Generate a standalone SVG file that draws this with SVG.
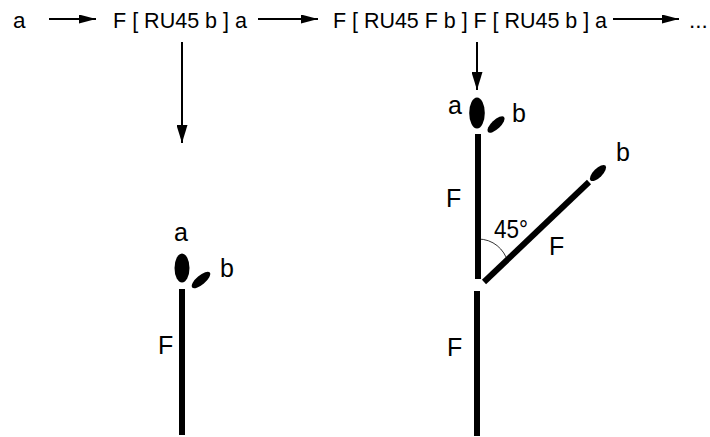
<svg xmlns="http://www.w3.org/2000/svg" width="710" height="437" viewBox="0 0 710 437">
<style>
.t{font-family:"Liberation Sans",Arial,sans-serif;font-size:22.5px;fill:#000}
.l{font-family:"Liberation Sans",Arial,sans-serif;font-size:25px;fill:#000}
.ar{stroke:#000;stroke-width:2;fill:none}
.stem{stroke:#000;stroke-width:6;fill:none}
.arc{stroke:#000;stroke-width:0.8;fill:none}
</style>
<defs>
<marker id="hh" markerUnits="userSpaceOnUse" markerWidth="17" markerHeight="9" refX="17" refY="4.5" orient="auto"><path d="M0,0 L17,4.5 L0,9 z" fill="#000"/></marker>
<marker id="hv" markerUnits="userSpaceOnUse" markerWidth="18" markerHeight="11" refX="18" refY="5.5" orient="auto"><path d="M0,0 L18,5.5 L0,11 z" fill="#000"/></marker>
</defs>
<g id="formula">
<text class="t" x="13" y="28">a</text>
<text class="t" x="113" y="28" textLength="134" lengthAdjust="spacingAndGlyphs">F [ RU45 b ] a</text>
<text class="t" x="333" y="28" textLength="274" lengthAdjust="spacingAndGlyphs">F [ RU45 F b ] F [ RU45 b ] a</text>
<text class="t" x="689" y="28">...</text>
</g>
<g id="connectors">
<line class="ar" x1="49" y1="19" x2="96" y2="19" marker-end="url(#hh)"/>
<line class="ar" x1="258" y1="19" x2="318" y2="19" marker-end="url(#hh)"/>
<line class="ar" x1="613" y1="19" x2="679" y2="19" marker-end="url(#hh)"/>
<line class="ar" x1="182" y1="42" x2="182" y2="143" marker-end="url(#hv)"/>
<line class="ar" x1="477" y1="42" x2="477" y2="90" marker-end="url(#hv)"/>
</g>
<g id="plant1">
<ellipse cx="182" cy="268" rx="7.5" ry="14.5" fill="#000"/>
<ellipse cx="0" cy="0" rx="11.5" ry="4.5" fill="#000" transform="translate(201 280) rotate(-40)"/>
<line class="stem" x1="182" y1="289" x2="182" y2="435"/>
<text class="l" x="174" y="241">a</text>
<text class="l" x="220" y="277">b</text>
<text class="l" x="158" y="354">F</text>
</g>
<g id="plant2">
<ellipse cx="477" cy="113" rx="7.8" ry="15.5" fill="#000"/>
<ellipse cx="0" cy="0" rx="11" ry="4.5" fill="#000" transform="translate(496 124.5) rotate(-43)"/>
<line class="stem" x1="478" y1="134" x2="478" y2="279"/>
<line class="stem" x1="477" y1="291" x2="477" y2="436"/>
<line class="stem" x1="484" y1="282" x2="589" y2="182"/>
<ellipse cx="0" cy="0" rx="10.5" ry="4.5" fill="#000" transform="translate(598 173) rotate(-45)"/>
<path class="arc" d="M478,239 C493,239 504,249 508,262"/>
<text class="l" x="448" y="114">a</text>
<text class="l" x="512" y="122">b</text>
<text class="l" x="616" y="161">b</text>
<text class="l" x="446" y="207">F</text>
<text class="l" x="494" y="238" textLength="34" lengthAdjust="spacingAndGlyphs">45°</text>
<text class="l" x="549" y="255">F</text>
<text class="l" x="447" y="356">F</text>
</g>
</svg>
